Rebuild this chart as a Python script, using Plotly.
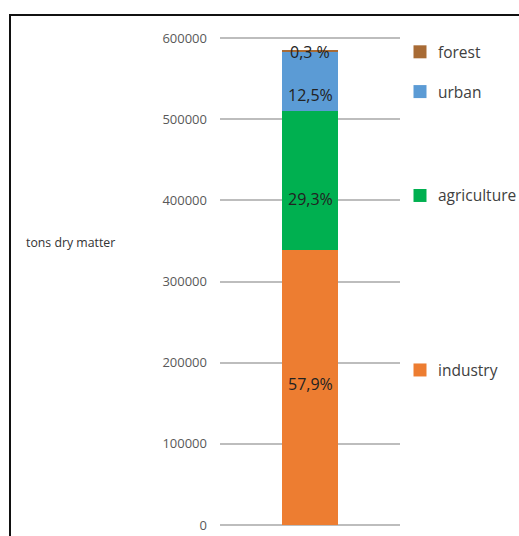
import plotly.graph_objects as go

# Sewage sludge origin, tons of dry matter, split by sector
total_tons = 585000
sectors = ["industry", "agriculture", "urban", "forest"]
shares_pct = [57.9, 29.3, 12.5, 0.3]
share_labels = ["57,9%", "29,3%", "12,5%", "0,3 %"]
colors = ["#ED7D31", "#00B050", "#5B9BD5", "#A86B35"]
y_ticks = [0, 100000, 200000, 300000, 400000, 500000, 600000]

values = [total_tons * p / 100 for p in shares_pct]

# pixel nudges for the in-bar percentage labels (relative to segment middle)
label_shift = [4, -18, -14, -2]
# vertical positions (data units) of the side legend entries
legend_y = [191000, 406000, 534000, 583000]

# small padding so the 0 and 600000 grid lines are not clipped at the plot edges
pad = 2474

TOP, BOTTOM = 36, 9
plot_h = 536 - TOP - BOTTOM

fig = go.Figure()
for name, v, c in zip(sectors, values, colors):
    fig.add_trace(go.Bar(x=["sludge"], y=[v], name=name, marker=dict(color=c, line=dict(width=0)),
                         width=0.31, showlegend=False, hoverinfo="skip"))

annotations = []
shapes = []
cum = 0
for i, (name, v, lab) in enumerate(zip(sectors, values, share_labels)):
    ypos = cum + v if name == "forest" else cum + v / 2
    annotations.append(dict(x="sludge", y=ypos, xref="x", yref="y", text=lab, showarrow=False,
                            yshift=label_shift[i], font=dict(family="Open Sans", size=16, color="#222222")))
    cum += v
    # side legend entry: colored square + name
    shapes.append(dict(type="rect", xref="paper", yref="y", xsizemode="pixel", ysizemode="pixel",
                       xanchor=(420 - 220) / 180, yanchor=legend_y[i], x0=-6.5, x1=6.5, y0=-6.5, y1=6.5,
                       fillcolor=colors[i], line=dict(width=0)))
    annotations.append(dict(x=(436 - 220) / 180, y=legend_y[i], xref="paper", yref="y", text=name,
                            showarrow=False, xanchor="left", yanchor="middle",
                            font=dict(family="Open Sans", size=15.5, color="#404040")))

# y-axis title placed horizontally on the left
annotations.append(dict(x=(24 - 220) / 180, y=(536 - BOTTOM - 242) / plot_h, xref="paper", yref="paper",
                        text="tons dry matter", showarrow=False, xanchor="left", yanchor="middle",
                        font=dict(family="Open Sans", size=12.3, color="#333333")))

# outer frame
shapes.append(dict(type="rect", xref="paper", yref="paper",
                   x0=(10 - 220) / 180, x1=(530 - 220) / 180, y0=-0.2, y1=(536 - BOTTOM - 15) / plot_h,
                   line=dict(color="#111111", width=2), fillcolor="rgba(0,0,0,0)", layer="above"))

fig.update_layout(
    barmode="stack",
    width=519, height=536,
    margin=dict(l=220, r=119, t=TOP, b=BOTTOM),
    paper_bgcolor="white", plot_bgcolor="white",
    xaxis=dict(showticklabels=False, showgrid=False, zeroline=False, showline=False,
               range=[-0.5, 0.5], fixedrange=True),
    yaxis=dict(range=[-pad, 600000 + pad], tickvals=y_ticks, ticktext=[str(t) for t in y_ticks],
               showgrid=True, gridcolor="#BDBDBD", gridwidth=1.5, zeroline=False, showline=False,
               ticks="", ticklabelstandoff=12, automargin=False,
               tickfont=dict(family="Open Sans", size=13, color="#595959")),
    annotations=annotations,
    shapes=shapes,
    showlegend=False,
)

fig.write_html("out.html")
